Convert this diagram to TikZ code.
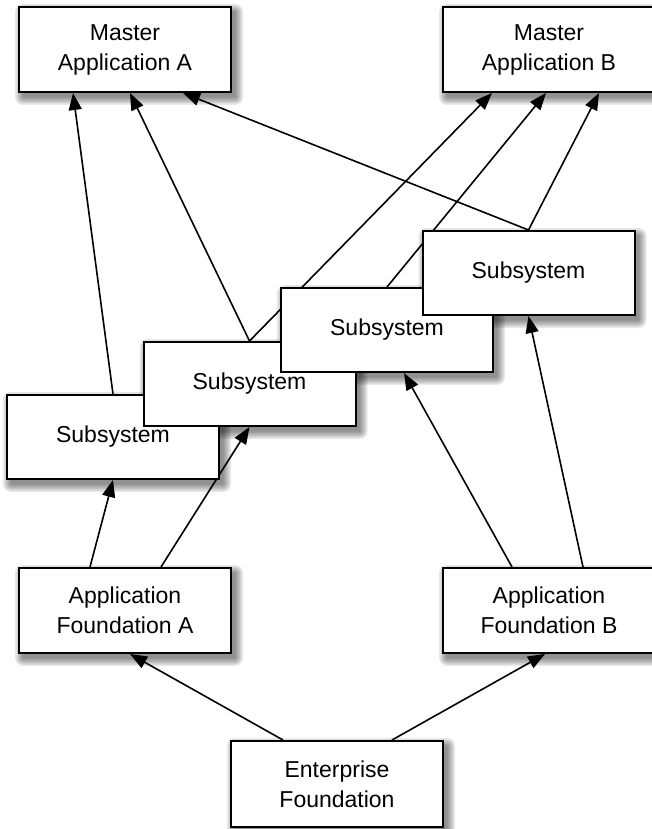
\documentclass[tikz,border=0pt]{standalone}
\usepackage{fontspec}
\setmainfont{Liberation Sans}
\usetikzlibrary{arrows.meta}
\pgfdeclarelayer{shadowlayer}
\pgfdeclarelayer{arrowlayer}
\pgfsetlayers{shadowlayer,arrowlayer,main}
\tikzset{
  box/.style={draw=black, line width=2pt, fill=white, minimum width=212pt, minimum height=85pt,
    inner sep=0pt, align=center, font=\fontsize{23}{30}\selectfont},
  conn/.style={line width=1.6pt, -{Triangle[length=17pt,width=13pt]}},
  shadpiece/.style={fill=black, fill opacity=0.09, draw=none}
}
\begin{document}
\begin{tikzpicture}[x=1pt,y=-1pt]
\useasboundingbox (0,0) rectangle (651,829);
\node[box] (ma) at (125,49.5) {Master\\Application A};
\node[box] (mb) at (549,49.5) {Master\\Application B};
\node[box, minimum height=84pt] (s1) at (113,437) {Subsystem};
\node[box, minimum height=84pt] (s2) at (249.5,384) {Subsystem};
\node[box, minimum height=84pt] (s3) at (387,330) {Subsystem};
\node[box, minimum height=84pt] (s4) at (528.5,273) {Subsystem};
\node[box] (afa) at (125,610.5) {Application\\Foundation A};
\node[box] (afb) at (549,610.5) {Application\\Foundation B};
\node[box, minimum height=86pt] (ef) at (337,784) {Enterprise\\Foundation};
\begin{pgfonlayer}{shadowlayer}
\foreach \n in {ma,mb,s1,s2,s3,s4,afa,afb,ef}{
  \foreach \r in {7,5.5,4,2.5,1,-0.5}{
    \fill[shadpiece, rounded corners=\r pt+1pt]
      ([xshift=4pt-\r pt, yshift=-5pt-\r pt]\n.south west) rectangle ([xshift=4pt+\r pt, yshift=-5pt+\r pt]\n.north east);
  }
}
\end{pgfonlayer}
\begin{pgfonlayer}{arrowlayer}
\draw[conn] ([xshift=-54pt]ef.north) -- ([xshift=5pt]afa.south);
\draw[conn] ([xshift=55pt]ef.north) -- ([xshift=-4pt]afb.south);
\draw[conn] ([xshift=-35pt]afa.north) -- (s1.south);
\draw[conn] ([xshift=36pt]afa.north) -- (s2.south);
\draw[conn] ([xshift=-37pt]afb.north) -- ([xshift=17pt]s3.south);
\draw[conn] ([xshift=34pt]afb.north) -- (s4.south);
\draw[conn] (s1.north) -- ([xshift=-52pt]ma.south);
\draw[conn] (s2.north) -- ([xshift=5pt]ma.south);
\draw[conn] (s4.north) -- ([xshift=58pt]ma.south);
\draw[conn] (s2.north) -- ([xshift=-57pt]mb.south);
\draw[conn] (s3.north) -- ([xshift=-3pt]mb.south);
\draw[conn] (s4.north) -- ([xshift=50pt]mb.south);
\end{pgfonlayer}
\end{tikzpicture}
\end{document}
